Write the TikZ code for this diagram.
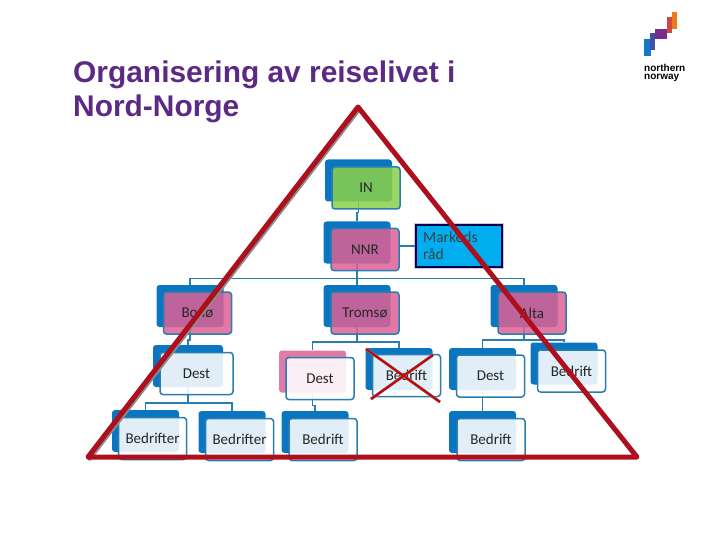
\documentclass[tikz,border=0pt]{standalone}
\usepackage{fontspec}
\setmainfont{Carlito}
\newfontfamily\titlefont{Liberation Sans}
\usetikzlibrary{calc}
\definecolor{orgblue}{HTML}{0B76C0}
\definecolor{orgedge}{HTML}{2A7DB0}
\definecolor{orgpink}{HTML}{DC6296}
\definecolor{orggreen}{HTML}{8AD04A}
\definecolor{marksblue}{HTML}{00ADEF}
\definecolor{titlepurple}{HTML}{5C2A84}
\definecolor{trired}{HTML}{AE0F1C}
\definecolor{logoblue}{HTML}{1078C8}
\definecolor{logoindigo}{HTML}{3F50A8}
\definecolor{logopurple}{HTML}{7A2E8C}
\definecolor{logored}{HTML}{D0483C}
\definecolor{logoorange}{HTML}{EE7A1E}

\begin{document}
\begin{tikzpicture}[x=1pt,y=-1pt,
  font=\fontsize{15}{18}\selectfont,
  backbox/.style={fill=orgblue,rounded corners=3pt,inner sep=0pt,minimum width=67pt,minimum height=42pt},
  pinkback/.style={backbox,fill=orgpink!85!white},
  frontbox/.style={draw=orgedge,line width=1.5pt,rounded corners=3pt,inner sep=0pt,minimum width=68pt,minimum height=42pt,
    fill=white,fill opacity=.88,text opacity=1,text=black!85},
  pinkbox/.style={frontbox,fill=orgpink,fill opacity=.86},
  greenbox/.style={frontbox,fill=orggreen,fill opacity=.86},
  link/.style={draw=orgedge,line width=1.5pt},
  redline/.style={draw=trired,line width=5pt,line cap=round,line join=round},
  greyline/.style={draw=black!45,line width=4.6pt,line cap=round},
  crossline/.style={draw=red!80!black,line width=2pt}]
  \useasboundingbox (0,0) rectangle (720,540);
  \node[font=\titlefont\bfseries\fontsize{29.9}{34}\selectfont,text=titlepurple,align=left,anchor=north west,inner sep=0pt] (title) at (73,61)
    {Organisering av reiselivet i\\Nord-Norge};

  \fill[logoblue] (644,39) rectangle (651,56);
  \fill[logoindigo] (650,33) rectangle (655,50);
  \fill[logopurple] (655,29) rectangle (667,39);
  \fill[logored] (667,17) rectangle (672,33);
  \fill[logoorange] (672,12) rectangle (677,29);
  \node[font=\titlefont\bfseries\fontsize{10}{8.5}\selectfont,align=left,anchor=north west,inner sep=0pt] (logo) at (644,64)
    {northern\\norway};

  \node[backbox] (inb) at (358.5,180.5) {};
  \node[backbox] (nnrb) at (357,242.5) {};
  \node[backbox] (bodob) at (190,306) {};
  \node[backbox] (tromsob) at (357,306) {};
  \node[backbox] (altab) at (524,306) {};
  \node[backbox,minimum width=70pt] (destab) at (188,366) {};
  \node[pinkback] (destbb) at (312.5,371.5) {};
  \node[backbox] (crossb) at (399,369) {};
  \node[backbox] (destcb) at (482.5,369) {};
  \node[backbox] (bedtb) at (564,363.5) {};
  \node[backbox] (beraB) at (145.5,431) {};
  \node[backbox] (berbB) at (232,432) {};
  \node[backbox] (bedab) at (315,432) {};
  \node[backbox] (bedbb) at (482.5,432) {};

  \draw[link] (inb.south) -- ++(0,11) -| (nnrb.north);
  \foreach \kid in {bodob,tromsob,altab}
    \draw[link] (nnrb.south) -- ++(0,15) -| (\kid.north);
  \draw[link] (bodob.south) -- ++(0,13) -| (destab.north);
  \foreach \kid in {beraB,berbB}
    \draw[link] (destab.south) -- ++(0,16) -| (\kid.north);
  \foreach \kid in {destbb,crossb}
    \draw[link] (tromsob.south) -- ++(0,15) -| (\kid.north);
  \foreach \kid in {destcb,bedtb}
    \draw[link] (altab.south) -- ++(0,13) -| (\kid.north);
  \draw[link] (destbb.south) -- ++(0,13) -| (bedab.north);
  \draw[link] (destcb.south) -- (bedbb.north);

  \node[greenbox] (in) at (366,188) {IN};
  \node[pinkbox] (nnr) at (365,249.5) {NNR};
  \node[pinkbox] (bodo) at (197.5,313) {Bodø};
  \node[pinkbox] (tromso) at (365,313) {Tromsø};
  \node[pinkbox] (alta) at (532,313) {Alta};
  \node[frontbox,minimum width=73pt] (desta) at (196.5,373.5) {Dest};
  \node[frontbox] (destb) at (320,378.5) {Dest};
  \node[frontbox] (crossbox) at (406.5,375.5) {Bedrift};
  \node[frontbox] (destc) at (490.5,376) {Dest};
  \node[frontbox] (bedt) at (571.5,371) {Bedrift};
  \node[frontbox] (bera) at (152.5,438.5) {Bedrifter};
  \node[frontbox] (berb) at (239.5,439.5) {Bedrifter};
  \node[frontbox] (beda) at (323,439.5) {Bedrift};
  \node[frontbox] (bedb) at (491,439.5) {Bedrift};

  \node[draw=black!70!blue,line width=1.3pt,fill=marksblue,preaction={draw=violet!25,line width=4pt},
    minimum width=86pt,minimum height=42pt,inner sep=0pt,align=left,text=black!75,text width=72pt,
    font=\fontsize{15.5}{17}\selectfont] (markeds) at (459,246) {Markeds\\råd};
  \draw[link] (nnr.east |- markeds.west) -- (markeds.west);

  \coordinate (crossa) at (366,349);
  \coordinate (crossc) at (440,402);
  \coordinate (crossd) at (433,355);
  \coordinate (crosse) at (371,399);
  \draw[draw=black!50,line width=3pt] (crossa) -- (crossc);
  \draw[draw=black!50,line width=3pt] (crossd) -- (crosse);
  \draw[crossline] (crossa) -- (crossc);
  \draw[crossline] (crossd) -- (crosse);

  \coordinate (apex) at (358,107);
  \coordinate (leftc) at (88,457);
  \coordinate (rightc) at (637,457);
  \draw[greyline] ($(apex)+(1.5,1.5)$) -- ($(leftc)+(1.5,1.5)$);
  \draw[redline] (apex) -- (leftc) -- (rightc) -- cycle;
\end{tikzpicture}
\end{document}
